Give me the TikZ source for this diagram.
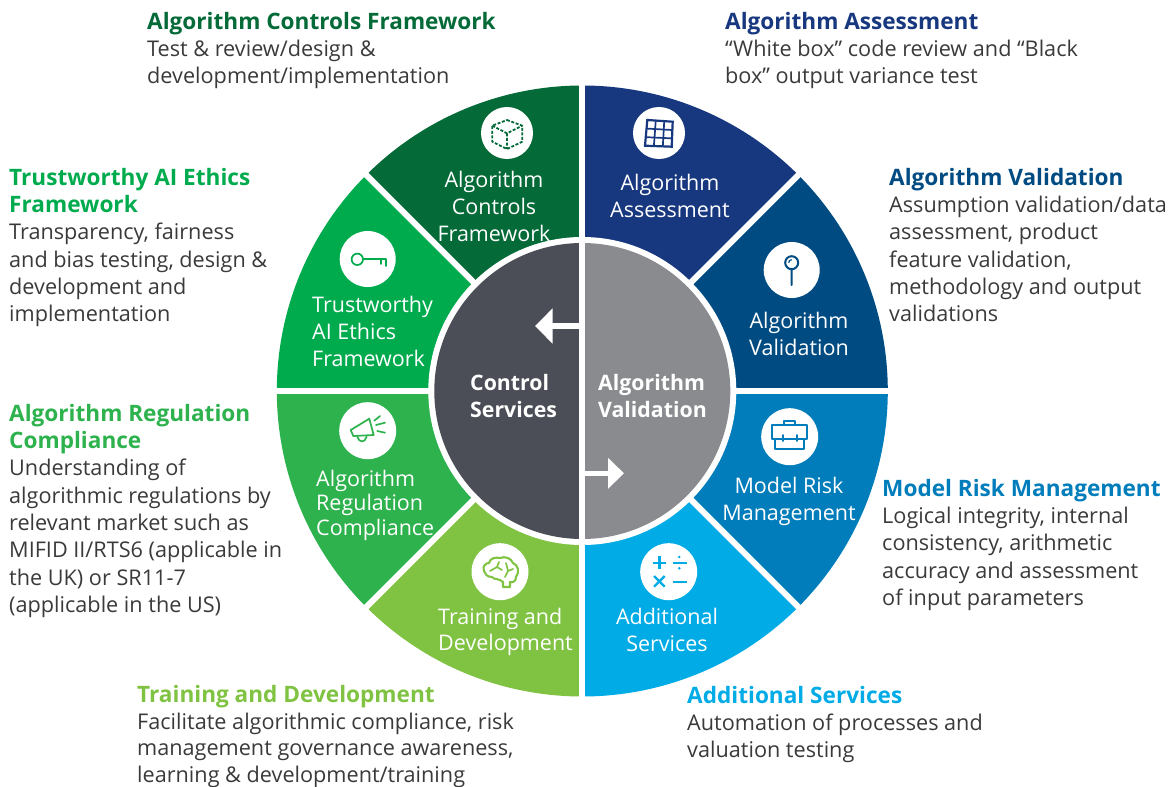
\documentclass[tikz,border=0pt]{standalone}
\usepackage{fontspec}
\setmainfont{Open Sans}
\usetikzlibrary{arrows.meta,calc}
\definecolor{ctrlgreen}{HTML}{046A38}
\definecolor{trustgreen}{HTML}{00AB4E}
\definecolor{reggreen}{HTML}{2DB24D}
\definecolor{trainlime}{HTML}{80C342}
\definecolor{addblue}{HTML}{00ABE6}
\definecolor{riskblue}{HTML}{007DBA}
\definecolor{validblue}{HTML}{004B82}
\definecolor{assessblue}{HTML}{17377F}
\definecolor{hubdark}{HTML}{4B4E57}
\definecolor{hubgrey}{HTML}{898B8F}
\definecolor{bodygrey}{HTML}{3A3A3A}
\newcommand{\blockhead}[2]{{\color{#1}\fontsize{22.6}{27.3}\selectfont\bfseries\strut #2}}

\begin{document}
\begin{tikzpicture}[x=1pt,y=1pt]
  \tikzstyle{every node}+=[inner sep=0pt]
  \tikzstyle{blocktext}=[anchor=north west,align=left,text=bodygrey,font=\fontsize{21.65}{27.3}\selectfont]
  \tikzstyle{seclabel}=[align=center,text=white,font=\fontsize{21.5}{26.7}\selectfont]
  \tikzstyle{secleft}=[anchor=west,align=left,text=white,font=\fontsize{21.5}{26.7}\selectfont]
  \tikzstyle{hublabel}=[anchor=west,align=left,text=white,font=\fontsize{21.3}{26.7}\selectfont\bfseries]
  \tikzstyle{iconline}=[line width=1.7,line cap=round,line join=round]
  \useasboundingbox (0,0) rectangle (1171,-787);
  \coordinate (hub) at (582.3,-391);

  \foreach \ang/\col in {0/validblue,45/assessblue,90/ctrlgreen,135/trustgreen,180/reggreen,225/trainlime,270/addblue,315/riskblue}
    \fill [\col] (hub) -- ++(\ang:305.5) arc (\ang:\ang+45:305.5) -- cycle;
  \foreach \ang in {0,45,90,135}
    \draw [white,line width=6] ($(hub)+(\ang:315)$) -- ($(hub)+(\ang+180:315)$);
  \fill [white] (hub) circle (154);
  \fill [hubdark] (hub) ++(90:148) arc (90:270:148) -- cycle;
  \fill [hubgrey] (hub) ++(-90:148) arc (-90:90:148) -- cycle;
  \draw [white,line width=6] ($(hub)+(0,156)$) -- ($(hub)+(0,-156)$);

  \coordinate (leftstart) at (580,-326);
  \coordinate (lefttip) at (535,-326);
  \coordinate (rightstart) at (585,-473.3);
  \coordinate (righttip) at (624,-473.3);
  \draw [white,line width=5.5,-{Triangle[length=17.5pt,width=34pt]}] (leftstart) -- (lefttip);
  \draw [white,line width=5.5,-{Triangle[length=16pt,width=30pt]}] (rightstart) -- (righttip);

  \node [hublabel] (ctrlhub) at (470,-396.3) {Control\\Services};
  \node [hublabel] (alghub) at (598,-396.3) {Algorithm\\Validation};

  \node [seclabel] (ctrlsec) at (494,-206.3) {Algorithm\\Controls\\Framework};
  \node [seclabel] (asssec) at (670,-196) {Algorithm\\Assessment};
  \node [secleft] (trustsec) at (312,-331.5) {Trustworthy\\AI Ethics\\Framework};
  \node [seclabel] (valsec) at (799,-334) {Algorithm\\Validation};
  \node [secleft,font=\fontsize{21.5}{24.5}\selectfont] (regsec) at (316,-505) {Algorithm\\Regulation\\Compliance};
  \node [secleft] (trainsec) at (438,-632) {Training and\\Development};
  \node [seclabel] (addsec) at (667,-630) {Additional\\Services};
  \node [seclabel] (risksec) at (789,-501.5) {Model Risk\\Management};

  \fill [white] (507,-133) circle (26);
  \fill [white] (659,-133) circle (26);
  \fill [white] (367.7,-259) circle (28);
  \fill [white] (791.7,-270) circle (28);
  \fill [white] (367.7,-430.7) circle (28.5);
  \fill [white] (500,-571.7) circle (28.5);
  \fill [white] (668.7,-571.7) circle (28.5);
  \fill [white] (789.7,-436.7) circle (28.5);

  \draw [ctrlgreen,line width=1.8,dash pattern=on 3pt off 1.6pt,line join=round] (507,-120) -- (522.3,-125.7) -- (522.3,-141.7) -- (507,-149) -- (492.3,-141.7) -- (492.3,-125.7) -- cycle;
  \draw [ctrlgreen,line width=1.8,dash pattern=on 3pt off 1.6pt] (492.3,-125.7) -- (507,-133.3) -- (522.3,-125.7) (507,-133.3) -- (507,-149);

  \coordinate (gridtl) at (647.3,-120);
  \coordinate (gridtr) at (672.7,-121.7);
  \coordinate (gridbr) at (671.7,-146.7);
  \coordinate (gridbl) at (645,-145.7);
  \draw [assessblue,line width=2.2] (gridtl) -- (gridtr) -- (gridbr) -- (gridbl) -- cycle;
  \foreach \t in {0.333,0.667} {
    \draw [assessblue,line width=1.7] ($(gridtl)!\t!(gridtr)$) -- ($(gridbl)!\t!(gridbr)$);
    \draw [assessblue,line width=1.7] ($(gridtl)!\t!(gridbl)$) -- ($(gridtr)!\t!(gridbr)$);
  }

  \draw [trustgreen,iconline] (357.3,-259.3) circle (5.7);
  \draw [trustgreen,iconline] (363,-259.3) -- (385.7,-259.3) -- (385.7,-266) (380.7,-259.3) -- (380.7,-264);

  \draw [validblue,iconline,line width=2] (791.7,-262.7) circle (6.5) (791.7,-269.2) -- (791.7,-285);
  \draw [validblue,line width=1.2] (788.7,-262.7) arc (180:90:3);

  \draw [reggreen,iconline] (350.7,-430) -- (369.3,-418.7) -- (373.7,-435) -- (353.3,-436) -- cycle;
  \draw [reggreen,iconline] (374.3,-420.7) -- (380,-416) (376,-425) -- (385,-422.7) (377.3,-431) -- (385,-432.7);
  \draw [reggreen,iconline] (357.3,-436.7) .. controls (359,-443) and (365,-443) .. (366.7,-436.7);

  \draw [trainlime,iconline,line width=2.1] (484,-571) .. controls (482,-566) and (486,-563) .. (489,-563) .. controls (490,-558) and (496,-557) .. (500,-558) .. controls (505,-556) and (511,-558) .. (513,-563) .. controls (518,-565) and (520,-572) .. (516,-577) .. controls (516,-581) and (513,-583) .. (510,-582) -- (510,-587) -- (503,-587) -- (503,-582) .. controls (499,-578) and (494,-580) .. (492,-577) .. controls (487,-577) and (485,-574) .. (484,-571);
  \draw [trainlime,iconline,line width=1.7] (490,-571) -- (497,-567) -- (502,-570) (499,-562) -- (497,-567) (506,-563) -- (508,-571) -- (513,-569) (508,-571) -- (505,-577);

  \draw [addblue,line width=2.4] (652.7,-562.7) -- (666,-562.7) (659.3,-556) -- (659.3,-569.3);
  \draw [addblue,line width=2.4] (672.7,-562.7) -- (686.7,-562.7);
  \fill [addblue] (679.3,-557) circle (1.4) (679.3,-568.3) circle (1.4);
  \draw [addblue,line width=2.4] (654,-576) -- (664.7,-586.7) (664.7,-576) -- (654,-586.7);
  \draw [addblue,line width=2.4] (672.7,-581.7) -- (686.7,-581.7);

  \draw [riskblue,iconline,line width=2] (771.7,-425) rectangle (807.3,-439.3);
  \draw [riskblue,iconline,line width=2] (775,-439.3) -- (775,-449.3) -- (804,-449.3) -- (804,-439.3);
  \draw [riskblue,iconline,line width=2] (784.3,-425) -- (784.3,-420.7) -- (795,-420.7) -- (795,-425);
  \draw [riskblue,iconline,line width=2] (783.3,-435) -- (783.3,-441) (796.7,-435) -- (796.7,-441);

  \node [blocktext] (ctrlblock) at (147,-9.9) {\blockhead{ctrlgreen}{Algorithm Controls Framework}\\Test \& review/design \&\\development/implementation};
  \node [blocktext] (assblock) at (725,-9.9) {\blockhead{assessblue}{Algorithm Assessment}\\“White box” code review and “Black\\box” output variance test};
  \node [blocktext] (valblock) at (889,-165.9) {\blockhead{validblue}{Algorithm Validation}\\Assumption validation/data\\assessment, product\\feature validation,\\methodology and output\\validations};
  \node [blocktext] (trustblock) at (9,-165.9) {\blockhead{trustgreen}{Trustworthy AI Ethics}\\\blockhead{trustgreen}{Framework}\\Transparency, fairness\\and bias testing, design \&\\development and\\implementation};
  \node [blocktext] (regblock) at (9,-401.9) {\blockhead{reggreen}{Algorithm Regulation}\\\blockhead{reggreen}{Compliance}\\Understanding of\\algorithmic regulations by\\relevant market such as\\MIFID II/RTS6 (applicable in\\the UK) or SR11-7\\(applicable in the US)};
  \node [blocktext] (riskblock) at (882,-476.9) {\blockhead{riskblue}{Model Risk Management}\\Logical integrity, internal\\consistency, arithmetic\\accuracy and assessment\\of input parameters};
  \node [blocktext,font=\fontsize{21.65}{26.5}\selectfont] (trainblock) at (137,-683.4) {\blockhead{trainlime}{Training and Development}\\Facilitate algorithmic compliance, risk\\management governance awareness,\\learning \& development/training};
  \node [blocktext] (addblock) at (687,-683.9) {\blockhead{addblue}{Additional Services}\\Automation of processes and\\valuation testing};
\end{tikzpicture}
\end{document}
